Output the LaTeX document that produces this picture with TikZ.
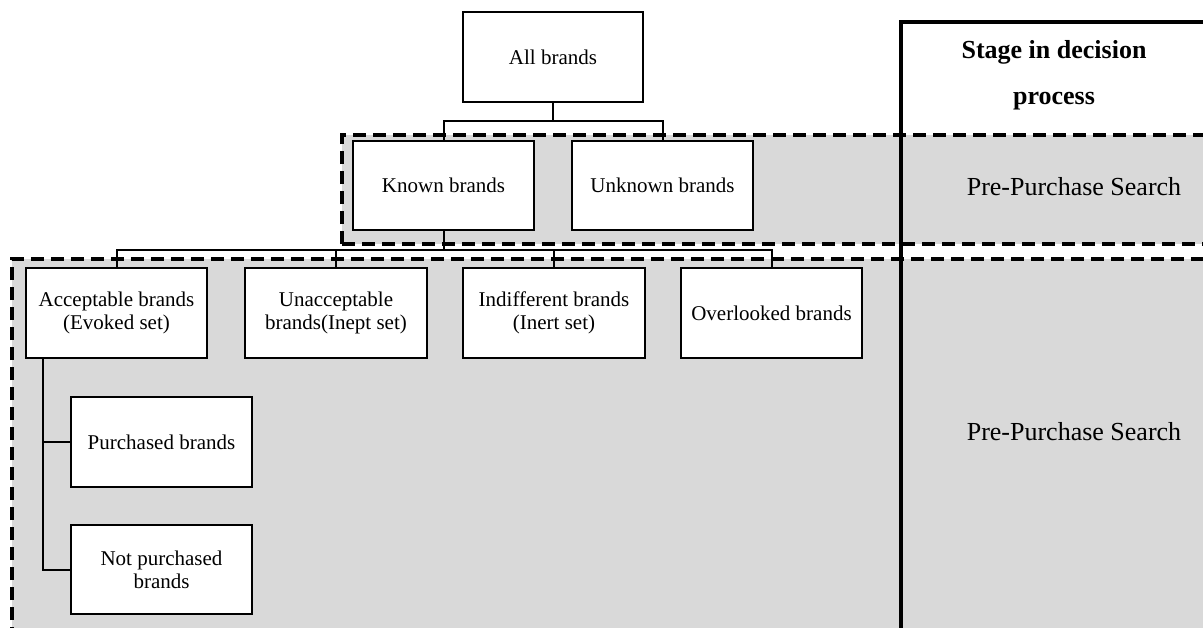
\documentclass[tikz,border=0pt]{standalone}
\usepackage{fontspec}
\setmainfont{Liberation Serif}
\usetikzlibrary{calc}
\definecolor{zonegray}{RGB}{217,217,217}
\begin{document}
\begin{tikzpicture}[x=1pt,y=-1pt,
  brandbox/.style={draw, fill=white, line width=2pt, minimum width=181pt, minimum height=89pt,
    inner sep=2pt, align=center, font=\fontsize{21}{23}\selectfont},
  conn/.style={line width=2pt},
  zoneline/.style={line width=4.5pt, dash pattern=on 13pt off 7pt},
  framel/.style={line width=4pt},
  stagetext/.style={font=\fontsize{26}{46}\selectfont, align=center}]
\useasboundingbox (0,0) rectangle (1203,627);
\clip (0,0) rectangle (1203,627);
% zones
\fill[zonegray] (342,135) rectangle (1215,244);
\fill[zonegray] (12,259) rectangle (1215,640);
\draw[zoneline] (342,244) -- (342,135) -- (1215,135);
\draw[zoneline] (342,244) -- (1215,244);
\draw[zoneline] (12,640) -- (12,259) -- (1215,259);
% right column frame
\draw[framel] (901,640) -- (901,22) -- (1215,22);
\node[stagetext, font=\fontsize{26}{46}\selectfont\bfseries] (stage) at (1054,75) {Stage in decision\\process};
\node[stagetext] (pre1) at (1074,187) {Pre-Purchase Search};
\node[stagetext] (pre2) at (1074,432) {Pre-Purchase Search};
% boxes
\node[brandbox, minimum width=180pt, minimum height=90pt] (all) at (553,57) {All brands};
\node[brandbox] (known) at (443.5,185.5) {Known brands};
\node[brandbox] (unknown) at (662.5,185.5) {Unknown brands};
\node[brandbox, minimum height=90pt] (acc) at (116.5,313) {Acceptable brands\\(Evoked set)};
\node[brandbox, minimum height=90pt, minimum width=182pt] (unacc) at (336,313) {Unacceptable\\brands(Inept set)};
\node[brandbox, minimum height=90pt, minimum width=182pt] (indiff) at (554,313) {Indifferent brands\\(Inert set)};
\node[brandbox, minimum height=90pt] (over) at (771.5,313) {Overlooked brands};
\node[brandbox, minimum height=90pt] (purch) at (161.5,442) {Purchased brands};
\node[brandbox] (notpurch) at (161.5,569.5) {Not purchased\\brands};
% connectors
\coordinate (j1) at (553,121);
\coordinate (j2) at (443.5,250);
\draw[conn] (all.south) -- (j1);
\draw[conn] (known.north) |- (j1) -| (unknown.north);
\draw[conn] (known.south) -- (j2);
\draw[conn] (acc.north) |- (j2) -| (over.north);
\draw[conn] (unacc.north) |- (j2);
\draw[conn] (indiff.north) |- (j2);
\draw[conn] ([xshift=18pt]acc.south west) |- (purch.west);
\draw[conn] ([xshift=18pt]acc.south west) |- (notpurch.west);
\end{tikzpicture}
\end{document}
